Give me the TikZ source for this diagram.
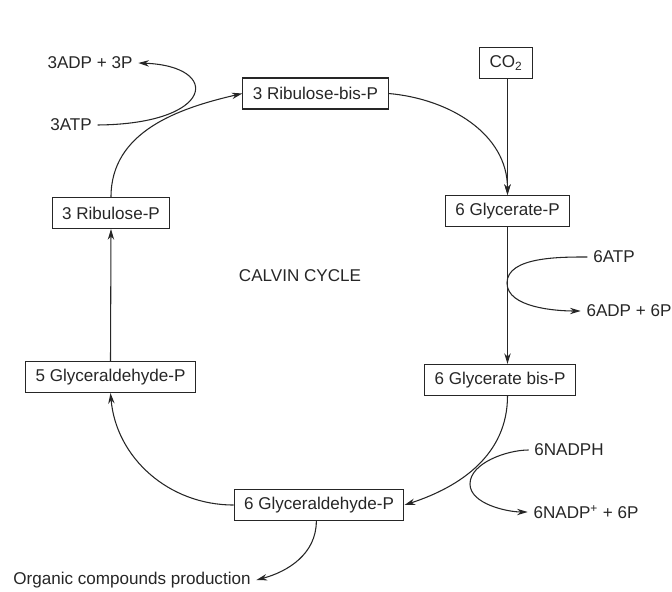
\documentclass[tikz,border=0pt]{standalone}
\usepackage{fontspec}
\setmainfont{Liberation Sans}
\usetikzlibrary{arrows.meta}
\tikzset{
	box/.style={shape=rectangle,draw,minimum height=23.25pt,inner xsep=7.5pt,inner ysep=2pt},
	lbl/.style={inner xsep=4pt,inner ysep=1pt},
	flow/.style={-{Stealth[length=8pt,width=4.8pt]}},
}

\begin{document}
\begin{tikzpicture}[x=0.75pt,y=-0.75pt,line width=0.8pt,color=black!85,font=\fontsize{12.8}{15}\selectfont]
	\useasboundingbox (0,0) rectangle (672,592);
	\foreach \x/\y/\n/\t in {315.5/93.5/rbp/3 Ribulose-bis-P,506/63/co2/CO\textsubscript{2},507.5/211/gp/6 Glycerate-P,500/380/gbp/6 Glycerate bis-P,319/505/galdsix/6 Glyceraldehyde-P,110.5/377/galdfive/5 Glyceraldehyde-P,111/213/rp/3 Ribulose-P} {
		\draw (\x,\y) node (\n) [box] {\t};
	}
	\foreach \x/\y/\n/\t in {90/63/adpthree/3ADP + 3P,71/125/atpthree/3ATP,614/257/atpsix/6ATP,629/311/adpsix/6ADP + 6P,569/450/nadph/6NADPH,586/512/nadp/6NADP\textsuperscript{+} + 6P,132/580/org/Organic compounds production} {
		\draw (\x,\y) node (\n) [lbl] {\t};
	}
	\draw (300,276) node (calvin) {CALVIN CYCLE};
	\coordinate (atpturn) at (507,283);
	\coordinate (nadphturn) at (470,484);
	\draw [flow] (rp.north) to[out=90,in=193] (rbp.west);
	\draw [flow] (atpthree.east) .. controls (215,124) and (222,66) .. (adpthree.east);
	\draw [flow] (rbp.east) to[out=-5,in=90] (gp.north);
	\draw [flow] (co2.south -| gp.north) -- (gp.north);
	\draw [flow] (gp.south) -- (gp.south |- gbp.north);
	\draw [flow] (atpsix.west) to[out=180,in=90,looseness=0.8] (atpturn) to[out=-90,in=180,looseness=0.8] (adpsix.west);
	\draw [flow] (gp.south |- gbp.south) to[out=-90,in=18] (galdsix.east);
	\draw [flow] (nadph.west) to[out=180,in=90,looseness=0.8] (nadphturn) to[out=-90,in=180,looseness=0.8] (nadp.west);
	\draw [flow] (galdsix.west) to[out=180,in=-85] (galdfive.south);
	\draw [flow] (galdfive.north) -- (rp.south);
	\draw [flow] ([xshift=-2]galdsix.south) to[out=-90,in=15] (org.east);
\end{tikzpicture}
\end{document}
